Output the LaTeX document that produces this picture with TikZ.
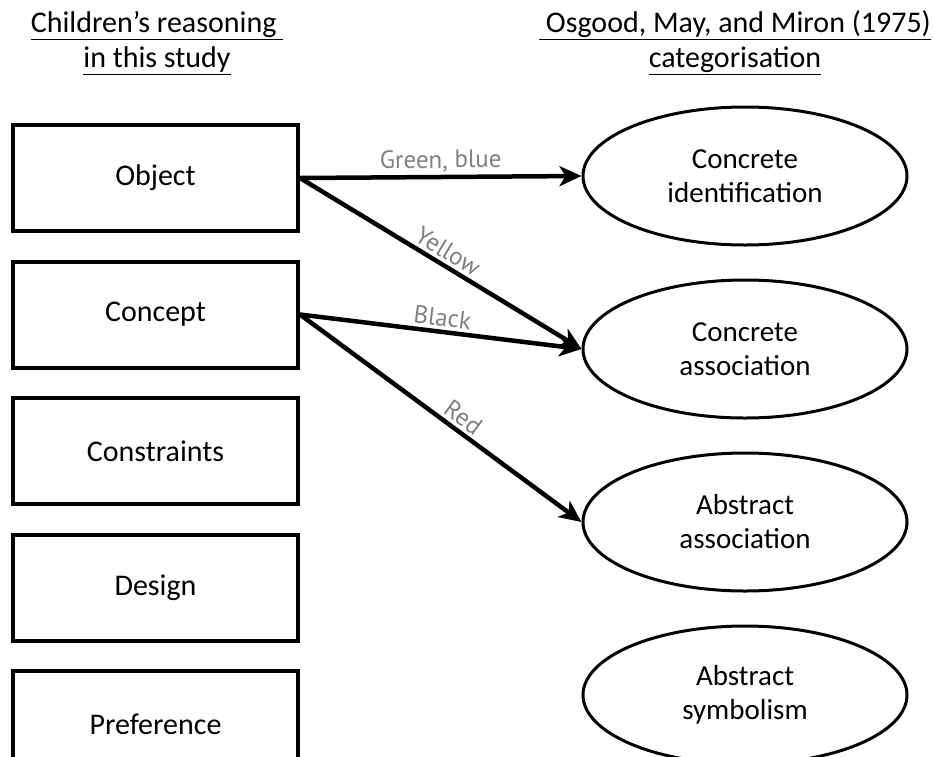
\documentclass[tikz,border=0pt]{standalone}
\usepackage{fontspec}
\setmainfont{Carlito}
\newfontfamily\tagfont{PT Sans}
\usetikzlibrary{positioning,arrows.meta,shapes.geometric}
\definecolor{tagGray}{RGB}{128,128,128}
\tikzset{
    base/.style={font=\fontsize{30}{35}\selectfont, align=center},
    reason/.style={base, rectangle, draw=black, line width=4pt,
                   minimum width=285pt, minimum height=106pt},
    category/.style={base, ellipse, draw=black, line width=3pt, inner sep=0pt,
                     minimum width=324pt, minimum height=138pt,
                     font=\fontsize{29}{34}\selectfont},
    heading/.style={base, font=\fontsize{30}{35}\selectfont},
    link/.style={-{Stealth[length=22pt,width=20pt,inset=6pt]}, line width=4.5pt},
    tag/.style={font=\tagfont\fontsize{25}{28}\selectfont, text=tagGray,
                sloped, above, inner sep=3pt}
}

\begin{document}
\begin{tikzpicture}[x=1pt,y=-1pt]
  \useasboundingbox (0,0) rectangle (934,756);
  \clip (0,0) rectangle (934,756);

  % Column headings
  \node[heading] (lefthead) at (157,43) {\underline{Children's reasoning\ }\\\underline{in this study}};
  \node[heading] (righthead) at (735,43) {\underline{\ Osgood, May, and Miron (1975)}\\\underline{categorisation}};

  % Children's reasoning
  \node[reason] (object) at (155.5,178) {Object};
  \node[reason, below=26.5pt of object] (concept) {Concept};
  \node[reason, below=26.5pt of concept] (constraints) {Constraints};
  \node[reason, below=26.5pt of constraints] (design) {Design};
  \node[reason, below=26.5pt of design] (preference) {Preference};

  % Osgood categories
  \node[category] (concid) at (745,176) {Concrete\\identification};
  \node[category, below=32pt of concid] (concas) {Concrete\\association};
  \node[category, below=32pt of concas] (absas) {Abstract\\association};
  \node[category, below=32pt of absas] (abssym) {Abstract\\symbolism};

  % Links
  \draw[link] (object.east) -- node[tag] {Green, blue} (concid.west);
  \draw[link] (object.east) -- node[tag] {Yellow} (concas.west);
  \draw[link] (concept.east) -- node[tag] {Black} (concas.west);
  \draw[link] (concept.east) -- node[tag, pos=0.55] {Red} (absas.west);
\end{tikzpicture}
\end{document}
